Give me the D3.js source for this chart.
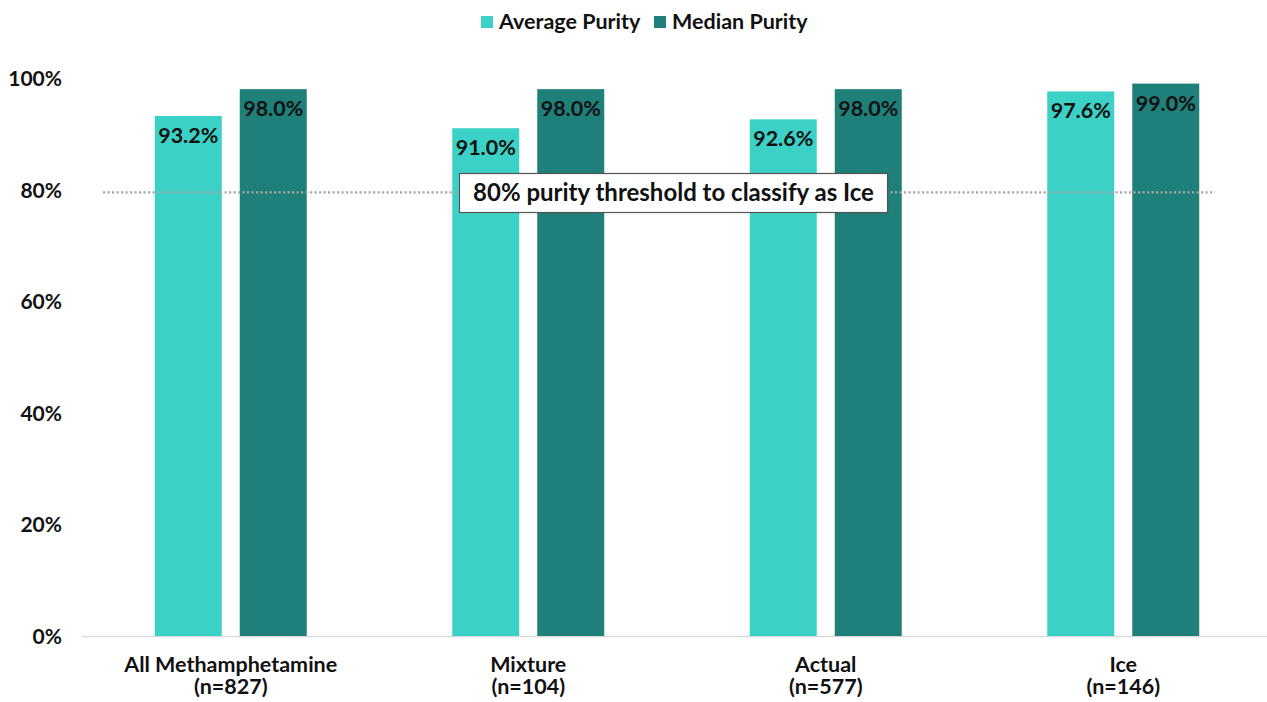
<!DOCTYPE html>
<html>
<head>
<meta charset="utf-8">
<script src="https://cdn.jsdelivr.net/npm/d3@7"></script>
<style>
  html, body { margin: 0; padding: 0; background: #fff; }
  svg { display: block; font-family: Lato, "Noto Sans", sans-serif; font-weight: 700; }
</style>
</head>
<body>
<svg id="chart" width="1267" height="702"></svg>
<script>
const categories = ["All Methamphetamine", "Mixture", "Actual", "Ice"];
const sampleSizes = ["(n=827)", "(n=104)", "(n=577)", "(n=146)"];
const seriesNames = ["Average Purity", "Median Purity"];
const averagePurity = [93.2, 91.0, 92.6, 97.6];
const medianPurity = [98.0, 98.0, 98.0, 99.0];
const yTicks = [0, 20, 40, 60, 80, 100];
const thresholdValue = 79.5;
const thresholdLabel = "80% purity threshold to classify as Ice";
const colors = ["#3bd1c6", "#1f7f79"];

const svg = d3.select("#chart");
const W = 1267, H = 702;

const x0 = d3.scaleBand().domain(categories).range([82, 1272]).paddingInner(0).paddingOuter(0);
const groupW = 152;
const x1 = d3.scaleBand().domain(seriesNames).range([0, groupW]).paddingInner(0.2118).paddingOuter(0);
const y = d3.scaleLinear().domain([0, 100]).range([636, 78]);

const seriesVals = [averagePurity, medianPurity];

// axis line
svg.append("line").attr("x1", 82).attr("x2", W).attr("y1", y(0) + 0.5).attr("y2", y(0) + 0.5)
  .attr("stroke", "#d9d9d9").attr("stroke-width", 1.5);

// y tick labels
const yAxis = d3.axisLeft(y).tickValues(yTicks).tickFormat(d => d + "%").tickSize(0).tickPadding(0);
const gy = svg.append("g").attr("transform", "translate(62,0)").call(yAxis);
gy.select(".domain").remove();
gy.selectAll("text").attr("font-family", "Lato, 'Noto Sans', sans-serif").attr("font-weight", 700)
  .attr("font-size", 21).attr("fill", "#111").attr("dy", "0.36em");

// bars
categories.forEach((c, i) => {
  const gx = x0(c) + (x0.bandwidth() - groupW) / 2;
  seriesNames.forEach((s, j) => {
    const v = seriesVals[j][i];
    svg.append("rect")
      .attr("x", gx + x1(s)).attr("y", y(v))
      .attr("width", x1.bandwidth()).attr("height", y(0) - y(v))
      .attr("fill", colors[j]);
  });
});

// threshold line
svg.append("line").attr("x1", 103).attr("x2", 1215).attr("y1", y(thresholdValue)).attr("y2", y(thresholdValue))
  .attr("stroke", "#a6a6a6").attr("stroke-width", 2.2).attr("stroke-dasharray", "2.2,2.3");

// value labels
categories.forEach((c, i) => {
  const gx = x0(c) + (x0.bandwidth() - groupW) / 2;
  seriesNames.forEach((s, j) => {
    const v = seriesVals[j][i];
    svg.append("text")
      .attr("x", gx + x1(s) + x1.bandwidth() / 2).attr("y", y(v) + 27)
      .attr("text-anchor", "middle").attr("font-size", 21.5).attr("fill", "#111")
      .text(v.toFixed(1) + "%");
  });
});

// threshold label box
const boxCx = 673.5, boxCy = y(thresholdValue);
const lbl = svg.append("g");
const rect = lbl.append("rect").attr("fill", "#fff").attr("stroke", "#555").attr("stroke-width", 1.2);
const t = lbl.append("text").attr("x", boxCx).attr("y", boxCy).attr("dy", "0.35em")
  .attr("text-anchor", "middle").attr("font-size", 24).attr("fill", "#111").text(thresholdLabel);
rect.attr("x", 459.5).attr("y", 173.5).attr("width", 428).attr("height", 39);

// x labels
categories.forEach((c, i) => {
  const cx = x0(c) + x0.bandwidth() / 2;
  const tx = svg.append("text").attr("text-anchor", "middle").attr("font-size", 21.5).attr("fill", "#111");
  tx.append("tspan").attr("x", cx).attr("y", 672).text(c);
  tx.append("tspan").attr("x", cx).attr("y", 694).text(sampleSizes[i]);
});

// legend
const legendItems = [{ name: seriesNames[0], sx: 481 }, { name: seriesNames[1], sx: 654 }];
legendItems.forEach((it, j) => {
  svg.append("rect").attr("x", it.sx).attr("y", 16).attr("width", 12).attr("height", 12).attr("fill", colors[j]);
  svg.append("text").attr("x", it.sx + 18).attr("y", 29).attr("font-size", 21.5).attr("fill", "#111").text(it.name);
});
</script>
</body>
</html>
